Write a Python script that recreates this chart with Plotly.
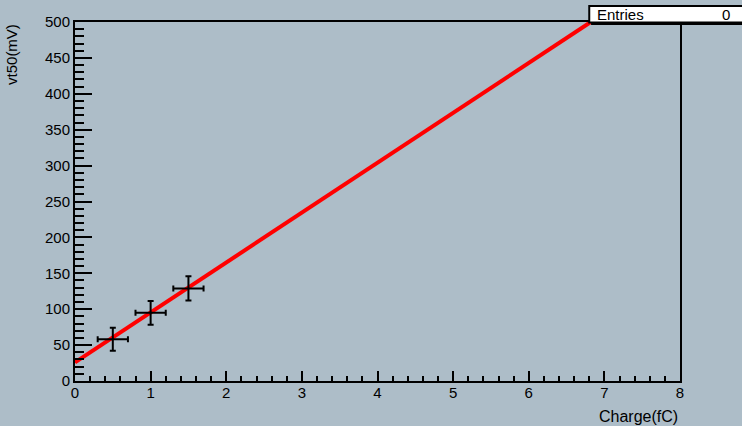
import plotly.graph_objects as go

# Data points (Charge in fC, vt50 in mV)
charge = [0.5, 1.0, 1.5]
vt50 = [58, 95, 129]
charge_err = [0.2, 0.2, 0.2]
vt50_err = [16, 16.5, 17]

# Fit line endpoints (clipped at top of frame)
fit_x = [0.0, 6.82]
fit_y = [26, 500]

entries = 0

BG = "#adbdc8"
FONT = "Liberation Sans, Arial, sans-serif"

fig = go.Figure()

fig.add_trace(go.Scatter(
    x=fit_x, y=fit_y, mode="lines",
    line=dict(color="#ff0000", width=4),
    hoverinfo="skip", showlegend=False, cliponaxis=True,
))

fig.add_trace(go.Scatter(
    x=charge, y=vt50, mode="markers",
    marker=dict(size=1, color="black"),
    error_x=dict(type="data", array=charge_err, color="black", thickness=2, width=3),
    error_y=dict(type="data", array=vt50_err, color="black", thickness=2, width=3),
    showlegend=False,
))

fig.update_layout(
    width=742, height=426,
    margin=dict(l=75, r=62, t=22, b=45),
    paper_bgcolor=BG, plot_bgcolor=BG,
    font=dict(family=FONT, size=15, color="black"),
    showlegend=False,
    xaxis=dict(
        range=[0, 8], dtick=1, tick0=0,
        ticks="inside", ticklen=10, tickwidth=2, tickcolor="black",
        minor=dict(dtick=0.2, ticks="inside", ticklen=5, tickwidth=2, tickcolor="black"),
        showline=True, linewidth=2, linecolor="black", mirror=True,
        showgrid=False, zeroline=False,
        tickfont=dict(size=15, family=FONT),
        ticklabelstandoff=-3,
    ),
    yaxis=dict(
        range=[0, 500], dtick=50, tick0=0,
        ticks="inside", ticklen=17, tickwidth=2, tickcolor="black",
        minor=dict(dtick=10, ticks="inside", ticklen=9, tickwidth=2, tickcolor="black"),
        showline=True, linewidth=2, linecolor="black", mirror=True,
        showgrid=False, zeroline=False,
        tickfont=dict(size=15, family=FONT),
    ),
    shapes=[
        dict(type="rect", xref="paper", yref="paper",
             x0=0.853, x1=1.12, y0=0.9916, y1=1.04,
             fillcolor="black", line=dict(width=0)),
        dict(type="rect", xref="paper", yref="paper",
             x0=0.850, x1=1.11, y0=0.9985, y1=1.0446,
             fillcolor="white", line=dict(color="black", width=2)),
    ],
    annotations=[
        dict(text="Entries", xref="paper", yref="paper", x=0.860, y=1.021,
             xanchor="left", yanchor="middle", showarrow=False,
             font=dict(size=15, family=FONT)),
        dict(text=str(entries), xref="paper", yref="paper", x=1.086, y=1.021,
             xanchor="right", yanchor="middle", showarrow=False,
             font=dict(size=15, family=FONT)),
        dict(text="vt50(mV)", xref="paper", yref="paper", x=-0.105, y=1.0,
             xanchor="center", yanchor="top", textangle=-90, showarrow=False,
             font=dict(size=15, family=FONT)),
        dict(text="Charge(fC)", xref="paper", yref="paper", x=1.0, y=-0.1,
             xanchor="right", yanchor="middle", showarrow=False,
             font=dict(size=16, family=FONT)),
    ],
)

fig.write_html("out.html", config={"displayModeBar": False},
               post_script="document.body.style.margin='0';document.body.style.overflow='hidden';")
